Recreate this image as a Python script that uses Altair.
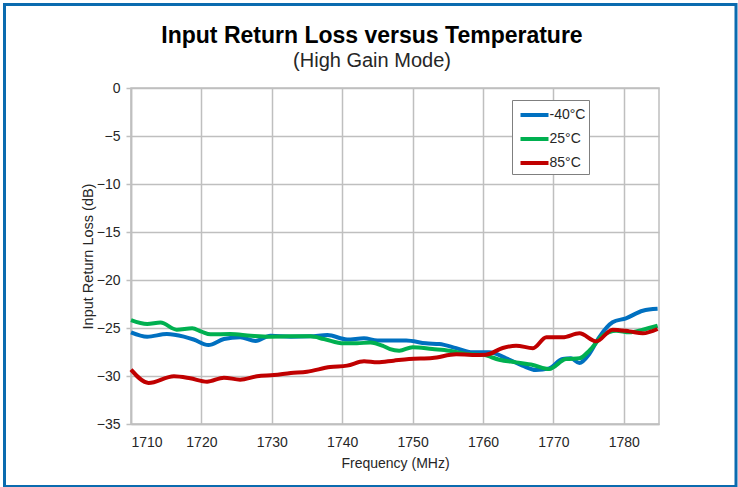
import altair as alt
import pandas as pd

# -40°C
freq_m40 = [1710, 1712.3, 1715.1, 1717.5, 1718.9, 1721.0, 1723.2, 1725.5, 1727.7, 1729.8,
            1732.7, 1735.5, 1737.9, 1740.7, 1743.1, 1745.0, 1747.3, 1749.1, 1751.9, 1753.8,
            1756.2, 1758.5, 1760.9, 1763.3, 1765.6, 1767.5, 1769.4, 1771.3, 1772.5, 1773.7,
            1775.1, 1776.5, 1778.4, 1780.3, 1782.7, 1784.8]
rl_m40 = [-25.45, -25.9, -25.63, -25.9, -26.2, -26.77, -26.15, -25.97, -26.35, -25.8,
          -25.9, -25.87, -25.73, -26.2, -26.08, -26.3, -26.3, -26.3, -26.6, -26.67,
          -27.1, -27.53, -27.53, -28.16, -28.92, -29.38, -29.2, -28.23, -28.16, -28.65,
          -27.7, -25.97, -24.41, -23.99, -23.2, -23.0]

# 25°C
freq_25 = [1710, 1712.3, 1714.2, 1716.5, 1718.7, 1720.0, 1721.3, 1724.1, 1727.0, 1729.8,
           1732.7, 1735.5, 1737.4, 1740.2, 1742.1, 1744.0, 1745.9, 1746.8, 1748.1, 1750.0,
           1752.8, 1755.2, 1757.6, 1760.0, 1762.3, 1764.7, 1767.1, 1769.4, 1771.8, 1773.7,
           1775.1, 1777.0, 1778.9, 1780.8, 1782.7, 1784.8]
rl_25 = [-24.17, -24.58, -24.44, -25.17, -25.03, -25.38, -25.66, -25.63, -25.8, -25.9,
         -25.87, -25.87, -26.15, -26.6, -26.6, -26.5, -26.9, -27.2, -27.36, -27.0,
         -27.19, -27.36, -27.7, -27.8, -28.3, -28.58, -28.85, -29.27, -28.23, -28.16,
         -27.36, -25.8, -25.28, -25.45, -25.17, -24.76]

# 85°C
freq_85 = [1710, 1712.5, 1716.1, 1718.4, 1720.8, 1723.2, 1725.5, 1727.9, 1730.3, 1732.7,
           1735.0, 1738.3, 1740.7, 1743.1, 1745.0, 1747.3, 1749.5, 1752.8, 1756.2, 1758.5,
           1760.4, 1762.8, 1764.7, 1767.1, 1769.0, 1771.3, 1773.7, 1776.1, 1778.4, 1780.8,
           1782.7, 1784.8]
rl_85 = [-29.34, -30.73, -30.03, -30.24, -30.59, -30.17, -30.38, -30.03, -29.9, -29.69,
         -29.55, -29.06, -28.92, -28.47, -28.58, -28.4, -28.23, -28.13, -27.74, -27.8,
         -27.78, -27.08, -26.84, -27.1, -25.97, -25.97, -25.55, -26.39, -25.17, -25.35,
         -25.55, -25.1]

series_names = ["-40°C", "25°C", "85°C"]
series_colors = ["#0070C0", "#00B050", "#C00000"]
x_ticks = [1710, 1720, 1730, 1740, 1750, 1760, 1770, 1780]
y_ticks = [0, -5, -10, -15, -20, -25, -30, -35]

frames = []
for name, f, r in zip(series_names, [freq_m40, freq_25, freq_85], [rl_m40, rl_25, rl_85]):
    frames.append(pd.DataFrame({"Frequency": f, "RL": r, "Temp": name}))
df = pd.concat(frames, ignore_index=True)

FONT = "Liberation Sans"
TXT = "#262626"
GRID = "#BFBFBF"
W, H = 528, 336

lines = alt.Chart(df).mark_line(strokeWidth=4, interpolate="monotone").encode(
    x=alt.X("Frequency:Q",
            scale=alt.Scale(domain=[1710, 1785], nice=False, zero=False),
            axis=alt.Axis(values=x_ticks, title="Frequency (MHz)", format="d",
                          tickSize=0, labelPadding=11, titlePadding=7,
                          labelFont=FONT, labelFontSize=14, labelColor=TXT,
                          titleFont=FONT, titleColor=TXT,
                          titleFontSize=14, titleFontWeight="normal",
                          gridColor=GRID, gridWidth=1.5, domainColor=GRID,
                          domainWidth=1.5)),
    y=alt.Y("RL:Q",
            scale=alt.Scale(domain=[-35, 0], nice=False),
            axis=alt.Axis(values=y_ticks, title="Input Return Loss (dB)",
                          tickSize=5, labelPadding=6, titlePadding=1,
                          labelFont=FONT, labelFontSize=14, labelColor=TXT,
                          titleFont=FONT, titleColor=TXT,
                          titleFontSize=14.5, titleFontWeight="normal",
                          gridColor=GRID, gridWidth=1.5, domainColor=GRID,
                          domainWidth=1.5, tickColor=GRID, tickWidth=1.5)),
    color=alt.Color("Temp:N",
                    scale=alt.Scale(domain=series_names, range=series_colors),
                    legend=alt.Legend(title=None, orient="none", legendX=381, legendY=12,
                                      symbolType="M-1.4,0H1.4", symbolStrokeWidth=4,
                                      symbolSize=400, symbolOffset=7.5,
                                      labelFontSize=14, labelFont=FONT,
                                      labelColor=TXT, strokeColor="#7F7F7F",
                                      padding=3, rowPadding=4, labelOffset=3,
                                      fillColor="white")),
    order=alt.Order("Frequency:Q"),
)

frame = alt.Chart(alt.Data(values=[{}])).mark_rect(
    filled=False, stroke="#0B6BAF", strokeWidth=3
).encode(
    x=alt.value(-126.5), x2=alt.value(W + 77),
    y=alt.value(-83.5), y2=alt.value(H + 62.5),
)

chart = alt.layer(lines, frame).properties(
    width=W, height=H,
    autosize=alt.AutoSizeParams(type="none"),
    padding={"left": 131, "top": 88, "right": 79, "bottom": 63},
    title=alt.TitleParams(
        text="Input Return Loss versus Temperature",
        subtitle="(High Gain Mode)",
        anchor="middle", dx=-23, offset=-68,
        font=FONT, fontSize=23, fontWeight="bold", color="#000000",
        subtitleFont=FONT, subtitleFontSize=20, subtitleColor=TXT,
        subtitlePadding=3,
    ),
).configure(background="white").configure_view(stroke=GRID, strokeWidth=1.5)

chart.save("out.html", embed_options={"renderer": "svg", "actions": False})
